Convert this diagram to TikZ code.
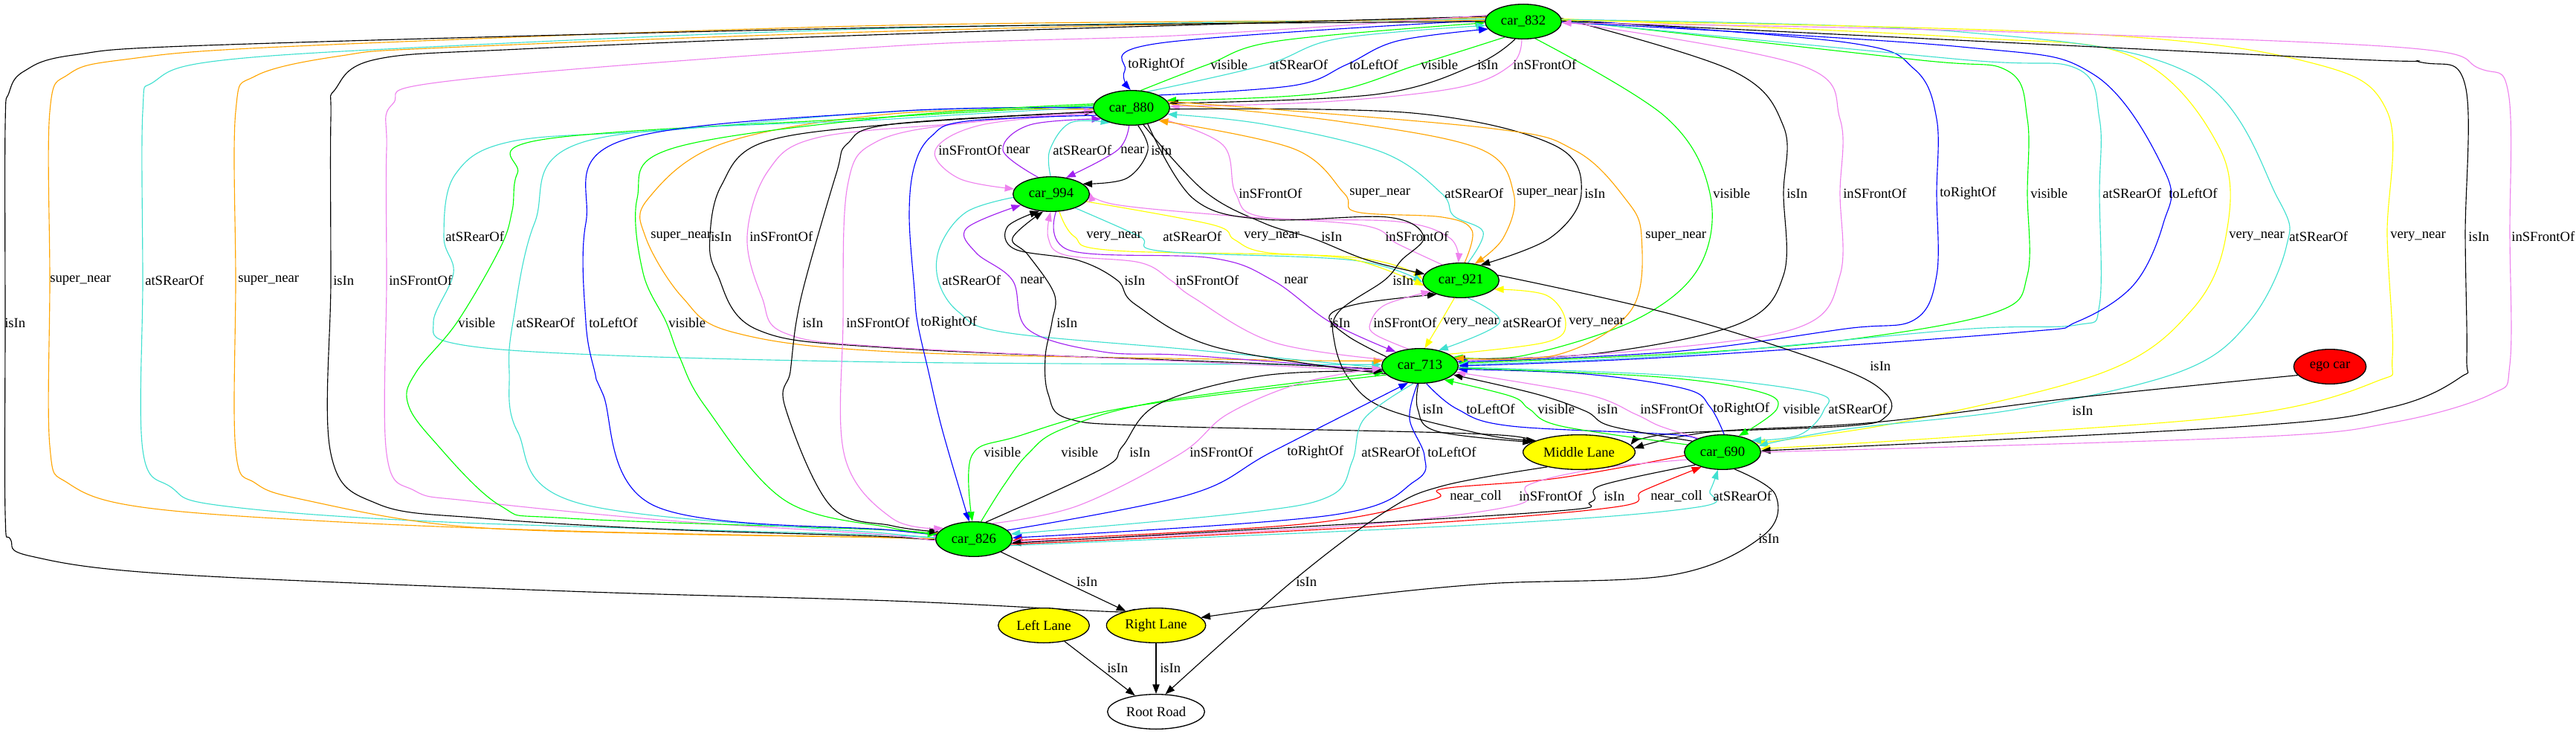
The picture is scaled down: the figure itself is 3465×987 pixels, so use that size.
\documentclass[tikz,border=0pt]{standalone}
\usepackage{fontspec}
\setmainfont{Liberation Serif}
\usetikzlibrary{shapes.geometric,arrows.meta,backgrounds}
\definecolor{gvgreen}{HTML}{00FF00}
\definecolor{gvyellow}{HTML}{FFFF00}
\definecolor{gvred}{HTML}{FF0000}
\definecolor{gvviolet}{HTML}{EE82EE}
\definecolor{gvturq}{HTML}{40E0D0}
\definecolor{gvorange}{HTML}{FFA500}
\definecolor{gvpurple}{HTML}{A020F0}
\definecolor{gvblue}{HTML}{0000FF}
\begin{document}
\begin{tikzpicture}[x=0.75pt,y=-0.75pt,>={Triangle[length=9.5pt,width=7pt]},
every node/.style={font=\fontsize{14}{16}\selectfont},
car/.style={ellipse,draw,line width=1pt,fill=gvgreen,minimum width=77pt,minimum height=35pt,inner sep=0pt},
lane/.style={ellipse,draw,line width=1pt,fill=gvyellow,minimum height=35pt,inner sep=0pt},
lbl/.style={anchor=west,inner sep=3pt},
rel/.style={->,line width=0.85pt,smooth,tension=0.6},
isin/.style={rel,draw=black},
front/.style={rel,draw=gvviolet},
rear/.style={rel,draw=gvturq},
lr/.style={rel,draw=gvblue},
vis/.style={rel,draw=gvgreen},
nr/.style={rel,draw=gvpurple},
snear/.style={rel,draw=gvorange},
vnear/.style={rel,draw=gvyellow},
coll/.style={rel,draw=gvred}]
\useasboundingbox (0,0) rectangle (3465,987);
% nodes
\node[car] (c832) at (2049,29) {car\_832};
\node[car] (c880) at (1522,145) {car\_880};
\node[car] (c994) at (1414,261) {car\_994};
\node[car] (c921) at (1965,377) {car\_921};
\node[car] (c713) at (1910,492) {car\_713};
\node[lane,minimum width=113pt] (mid) at (2124,608) {Middle Lane};
\node[car] (c690) at (2317,608) {car\_690};
\node[car,fill=gvred,minimum width=73pt] (ego) at (3134,493) {ego car};
\node[car] (c826) at (1310,725) {car\_826};
\node[lane,minimum width=92pt] (leftl) at (1404,841) {Left Lane};
\node[lane,minimum width=100pt] (rightl) at (1555,841) {Right Lane};
\node[lane,fill=white,minimum width=98pt] (road) at (1555,957) {Root Road};
% labels
\node[lbl] (lA1) at (1513,87) {toRightOf};
\node[lbl] (lA2) at (1624,87) {visible};
\node[lbl] (lA3) at (1703,87) {atSRearOf};
\node[lbl] (lA4) at (1811,87) {toLeftOf};
\node[lbl] (lA5) at (1907,87) {visible};
\node[lbl] (lA6) at (1983,87) {isIn};
\node[lbl] (lA7) at (2031,87) {inSFrontOf};
\node[lbl] (lB1) at (1258,202) {inSFrontOf};
\node[lbl] (lB2) at (1349,202) {near};
\node[lbl] (lB3) at (1412,202) {atSRearOf};
\node[lbl] (lB4) at (1503,202) {near};
\node[lbl] (lB5) at (1544,202) {isIn};
\node[lbl] (lC1) at (1662,260) {inSFrontOf};
\node[lbl] (lC2) at (1811,260) {super\_near};
\node[lbl] (lC3) at (1939,260) {atSRearOf};
\node[lbl] (lC4) at (2036,260) {super\_near};
\node[lbl] (lC5) at (2127,260) {isIn};
\node[lbl] (lC6) at (2300,260) {visible};
\node[lbl] (lC7) at (2399,260) {isIn};
\node[lbl] (lC8) at (2475,260) {inSFrontOf};
\node[lbl] (lC9) at (2605,260) {toRightOf};
\node[lbl] (lC10) at (2727,260) {visible};
\node[lbl] (lC11) at (2824,260) {atSRearOf};
\node[lbl] (lC12) at (2913,260) {toLeftOf};
\node[lbl] (lD1) at (595,318) {atSRearOf};
\node[lbl] (lD2) at (871,318) {super\_near};
\node[lbl] (lD3) at (952,318) {isIn};
\node[lbl] (lD4) at (1004,318) {inSFrontOf};
\node[lbl] (lD5) at (1457,318) {very\_near};
\node[lbl] (lD6) at (1560,318) {atSRearOf};
\node[lbl] (lD7) at (1669,318) {very\_near};
\node[lbl] (lD8) at (1773,318) {isIn};
\node[lbl] (lD9) at (1859,318) {inSFrontOf};
\node[lbl] (lD10) at (2209,318) {super\_near};
\node[lbl] (lD11) at (2994,318) {very\_near};
\node[lbl] (lD12) at (3075,318) {atSRearOf};
\node[lbl] (lD13) at (3211,318) {very\_near};
\node[lbl] (lD14) at (3316,318) {isIn};
\node[lbl] (lD15) at (3374,318) {inSFrontOf};
\node[lbl] (lE1) at (63,377) {super\_near};
\node[lbl] (lE2) at (191,377) {atSRearOf};
\node[lbl] (lE3) at (316,377) {super\_near};
\node[lbl] (lE4) at (444,377) {isIn};
\node[lbl] (lE5) at (519,377) {inSFrontOf};
\node[lbl] (lE6) at (1263,377) {atSRearOf};
\node[lbl] (lE7) at (1368,377) {near};
\node[lbl] (lE8) at (1508,377) {isIn};
\node[lbl] (lE9) at (1577,377) {inSFrontOf};
\node[lbl] (lE10) at (1723,377) {near};
\node[lbl] (lE11) at (1869,377) {isIn};
\node[lbl] (lF1) at (2,434) {isIn};
\node[lbl] (lF2) at (612,434) {visible};
\node[lbl] (lF3) at (690,434) {atSRearOf};
\node[lbl] (lF4) at (788,434) {toLeftOf};
\node[lbl] (lF5) at (895,434) {visible};
\node[lbl] (lF6) at (1075,434) {isIn};
\node[lbl] (lF7) at (1134,434) {inSFrontOf};
\node[lbl] (lF8) at (1234,434) {toRightOf};
\node[lbl] (lF9) at (1417,434) {isIn};
\node[lbl] (lF10) at (1784,434) {isIn};
\node[lbl] (lF11) at (1843,434) {inSFrontOf};
\node[lbl] (lF12) at (1937,434) {very\_near};
\node[lbl] (lF13) at (2017,434) {atSRearOf};
\node[lbl] (lF14) at (2106,434) {very\_near};
\node[lbl] (lG1) at (2511,492) {isIn};
\node[lbl] (lH1) at (1909,550) {isIn};
\node[lbl] (lH2) at (1968,550) {toLeftOf};
\node[lbl] (lH3) at (2064,550) {visible};
\node[lbl] (lH4) at (2144,550) {isIn};
\node[lbl] (lH5) at (2202,550) {inSFrontOf};
\node[lbl] (lH6) at (2300,550) {toRightOf};
\node[lbl] (lH7) at (2394,550) {visible};
\node[lbl] (lH8) at (2455,550) {atSRearOf};
\node[lbl] (lH9) at (2783,552) {isIn};
\node[lbl] (lR1) at (1319,608) {visible};
\node[lbl] (lR2) at (1423,608) {visible};
\node[lbl] (lR3) at (1515,608) {isIn};
\node[lbl] (lR4) at (1596,608) {inSFrontOf};
\node[lbl] (lR5) at (1727,608) {toRightOf};
\node[lbl] (lR6) at (1827,608) {atSRearOf};
\node[lbl] (lR7) at (1916,608) {toLeftOf};
\node[lbl] (lI1) at (1946,667) {near\_coll};
\node[lbl] (lI2) at (2039,667) {inSFrontOf};
\node[lbl] (lI3) at (2153,667) {isIn};
\node[lbl] (lI4) at (2216,667) {near\_coll};
\node[lbl] (lI5) at (2300,667) {atSRearOf};
\node[lbl] (lJ1) at (2361,724) {isIn};
\node[lbl] (lJ2) at (1444,782) {isIn};
\node[lbl] (lJ3) at (1739,782) {isIn};
\node[lbl] (lK1) at (1485,898) {isIn};
\node[lbl] (lK2) at (1556,898) {isIn};
% relations
\begin{scope}[on background layer]
\draw[lr] plot coordinates {(c832.178) (1560,58) (1513,95) (c880.93)};
\draw[vis] plot coordinates {(c880.62) (1624,87) (1720,55) (c832.182)};
\draw[rear] plot coordinates {(c880.45) (1703,87) (1800,52) (c832.186)};
\draw[lr] plot coordinates {(c880.25) (1740,115) (1811,87) (1880,55) (c832.192)};
\draw[vis] plot coordinates {(c832.220) (1907,87) (1780,125) (c880.12)};
\draw[isin] plot coordinates {(c832.245) (1985,87) (1850,127) (c880.7)};
\draw[front] plot coordinates {(c832.265) (2033,87) (1960,118) (1780,137) (c880.2)};
\draw[front] plot coordinates {(c880.188) (1320,168) (1258,202) (1290,240) (c994.172)};
\draw[nr] plot coordinates {(c994.128) (1349,202) (1385,168) (c880.200)};
\draw[rear] plot coordinates {(c994.92) (1412,202) (1440,165) (c880.215)};
\draw[nr] plot coordinates {(c880.262) (1503,202) (c994.48)};
\draw[isin] plot coordinates {(c880.290) (1544,202) (1515,240) (c994.18)};
\draw[front] plot coordinates {(c880.340) (1645,195) (1662,260) (1700,292) (1880,298) (1950,320) (c921.98)};
\draw[snear] plot coordinates {(c921.78) (1980,310) (1940,292) (1825,285) (1808,260) (1740,200) (c880.335)};
\draw[rear] plot coordinates {(c921.68) (1995,312) (1955,290) (1939,260) (1860,205) (1700,167) (c880.350)};
\draw[snear] plot coordinates {(c880.6) (1800,163) (1990,200) (2036,260) (2022,320) (c921.50)};
\draw[isin] plot coordinates {(c880.358) (1900,152) (2090,195) (2127,260) (2085,320) (c921.38)};
\draw[vis] plot coordinates {(c832.305) (2240,157) (2300,260) (2285,360) (2200,430) (2050,478) (c713.15)};
\draw[isin] plot coordinates {(c832.5) (2330,95) (2399,170) (2399,260) (2399,370) (2340,435) (2150,475) (c713.11)};
\draw[front] plot coordinates {(c713.8) (2200,472) (2420,440) (2475,370) (2475,260) (2475,160) (2420,87) (c832.0)};
\draw[lr] plot coordinates {(c832.3) (2483,57) (2575,93) (2605,160) (2605,260) (2605,370) (2575,430) (2483,442) (2250,473) (c713.6)};
\draw[vis] plot coordinates {(c832.2) (2575,80) (2700,95) (2727,160) (2727,260) (2727,370) (2684,420) (2483,457) (2250,476) (c713.4)};
\draw[rear] plot coordinates {(c832.1) (2638,80) (2793,92) (2824,160) (2824,260) (2824,410) (2793,437) (2638,443) (2250,478) (c713.2)};
\draw[lr] plot coordinates {(c832.359) (2638,63) (2816,100) (2913,233) (2910,300) (2870,383) (2793,433) (2715,447) (2250,480) (c713.0)};
\draw[rear] plot coordinates {(c880.178) (1200,150) (900,175) (689,190) (612,235) (597,318) (610,367) (583,433) (612,462) (800,477) (1200,487) (1700,490) (c713.178)};
\draw[snear] plot coordinates {(c880.182) (1200,153) (972,193) (872,267) (868,318) (918,400) (987,447) (1200,473) (1700,484) (c713.172)};
\draw[isin] plot coordinates {(c713.185) (1700,489) (1200,468) (1018,443) (964,367) (955,318) (970,250) (1025,192) (1200,167) (c880.186)};
\draw[front] plot coordinates {(c713.190) (1700,491) (1200,467) (1056,448) (1025,400) (1005,318) (1033,230) (1100,185) (1300,165) (c880.184)};
\draw[snear] plot coordinates {(c880.10) (2000,172) (2118,202) (2186,267) (2208,318) (2194,417) (2095,477) (c713.13)};
\draw[vnear] plot coordinates {(c994.295) (1445,318) (1500,337) (1820,346) (c921.178)};
\draw[rear] plot coordinates {(c994.330) (1533,318) (1565,338) (1820,350) (c921.183)};
\draw[vnear] plot coordinates {(c994.348) (1630,302) (1660,322) (1700,339) (1820,349) (c921.188)};
\draw[isin] plot coordinates {(c880.305) (1620,257) (1700,300) (1767,321) (1840,350) (c921.170)};
\draw[front] plot coordinates {(c921.140) (1880,328) (1833,303) (1653,290) (1500,275) (c994.3)};
\draw[vnear] plot coordinates {(c832.4) (2638,50) (2870,77) (2986,200) (2994,318) (2948,417) (2831,500) (2560,567) (c690.15)};
\draw[rear] plot coordinates {(c832.3) (2638,43) (2948,100) (3064,267) (3075,333) (3025,433) (2932,500) (2715,550) (2483,577) (c690.10)};
\draw[vnear] plot coordinates {(c832.2) (2793,45) (3103,83) (3211,150) (3211,318) (3218,480) (3196,513) (3025,557) (2638,587) (c690.5)};
\draw[isin] plot coordinates {(c832.1) (3126,78) (3258,84) (3316,115) (3316,318) (3318,480) (3310,507) (3219,547) (3025,573) (c690.2)};
\draw[front] plot coordinates {(c690.0) (3025,588) (3219,568) (3351,530) (3376,490) (3376,318) (3374,125) (3335,92) (3219,63) (2600,40) (c832.358)};
\draw[snear] plot coordinates {(c832.178) (1200,34) (400,62) (168,80) (92,100) (67,150) (67,377) (67,600) (92,650) (191,682) (459,702) (800,715) (1200,723) (c826.180)};
\draw[rear] plot coordinates {(c832.176) (1200,38) (600,62) (291,82) (207,110) (192,150) (192,377) (192,605) (230,655) (298,680) (600,702) (1200,720) (c826.182)};
\draw[snear] plot coordinates {(c832.174) (1200,42) (600,64) (459,75) (344,102) (317,150) (317,377) (317,605) (344,650) (413,673) (612,707) (900,718) (1200,723) (c826.184)};
\draw[isin] plot coordinates {(c832.172) (1200,46) (700,66) (505,80) (451,120) (445,160) (445,377) (445,610) (509,678) (650,697) (900,712) (1200,722) (c826.186)};
\draw[front] plot coordinates {(c832.170) (1600,47) (1200,62) (612,108) (528,140) (520,200) (520,377) (520,610) (558,660) (635,674) (900,700) (1200,720) (c826.188)};
\draw[isin] plot coordinates {(c832.180) (1200,37) (306,60) (99,74) (32,96) (12,125) (7,170) (7,433) (7,690) (14,725) (42,748) (230,772) (765,795) (1200,808) (1483,822) (rightl.155)};
\draw[rear] plot coordinates {(c994.185) (1300,285) (1265,330) (1262,377) (1290,420) (1352,447) (1600,470) (c713.183)};
\draw[nr] plot coordinates {(c713.187) (1600,478) (1483,473) (1383,443) (1362,377) (1313,340) (1300,307) (c994.200)};
\draw[isin] plot coordinates {(c713.193) (1636,467) (1528,410) (1503,377) (1450,350) (1365,335) (1355,305) (c994.235)};
\draw[front] plot coordinates {(c713.170) (1712,460) (1605,400) (1575,377) (1533,353) (1433,343) (1410,320) (c994.268)};
\draw[nr] plot coordinates {(c994.285) (1440,337) (1630,347) (1712,377) (1789,433) (c713.150)};
\draw[isin] plot coordinates {(c880.315) (1605,267) (1700,295) (1866,292) (1915,318) (1885,350) (1862,377) (1800,420) (1795,460) (1815,510) (1865,550) (2000,585) (mid.165)};
\draw[vis] plot coordinates {(c880.176) (1200,157) (734,187) (696,233) (689,283) (673,333) (615,433) (560,500) (548,540) (581,590) (673,680) (765,697) (1200,713) (c826.176)};
\draw[rear] plot coordinates {(c880.179) (1200,160) (788,190) (719,300) (690,433) (685,500) (696,580) (780,677) (1200,718) (c826.178)};
\draw[lr] plot coordinates {(c880.180) (1200,150) (834,190) (788,300) (788,433) (800,500) (811,530) (880,680) (1200,713) (c826.174)};
\draw[vis] plot coordinates {(c880.174) (1200,157) (903,200) (857,267) (865,367) (896,433) (914,480) (949,547) (1056,673) (1200,710) (c826.172)};
\draw[isin] plot coordinates {(c880.186) (1200,167) (1140,193) (1125,233) (1086,367) (1071,433) (1063,500) (1056,547) (1117,680) (1200,707) (c826.168)};
\draw[front] plot coordinates {(c880.188) (1300,165) (1180,190) (1140,250) (1134,433) (1136,613) (1200,697) (c826.160)};
\draw[lr] plot coordinates {(c880.192) (1300,163) (1253,183) (1230,223) (1223,290) (1230,390) (1234,433) (1249,500) (1268,580) (c826.105)};
\draw[isin] plot coordinates {(mid.178) (2018,585) (1559,573) (1437,563) (1410,530) (1406,480) (1415,433) (1418,395) (1383,343) (1362,320) (c994.245)};
\draw[isin] plot coordinates {(c713.165) (1813,452) (1788,425) (1830,408) (c921.210)};
\draw[front] plot coordinates {(c713.125) (1850,450) (1843,435) (1863,410) (c921.200)};
\draw[vnear] plot coordinates {(c921.250) (1937,434) (c713.75)};
\draw[rear] plot coordinates {(c921.292) (2017,434) (c713.40)};
\draw[vnear] plot coordinates {(c713.22) (2080,460) (2106,434) (2080,397) (c921.345)};
\draw[isin] plot coordinates {(c921.8) (2250,423) (2467,492) (2537,530) (2537,560) (2483,573) (2250,583) (mid.8)};
\draw[isin] plot coordinates {(ego.195) (2790,535) (2521,568) (2300,581) (mid.4)};
\draw[isin] plot coordinates {(c713.265) (1907,550) (1933,580) (mid.168)};
\draw[lr] plot coordinates {(c713.290) (1960,550) (2033,573) (2267,586) (c690.175)};
\draw[vis] plot coordinates {(c690.168) (2100,573) (2057,550) (2033,533) (c713.330)};
\draw[isin] plot coordinates {(c690.160) (2167,573) (2133,553) (2067,530) (c713.345)};
\draw[front] plot coordinates {(c690.150) (2233,573) (2200,557) (2133,530) (c713.350)};
\draw[lr] plot coordinates {(c690.85) (2300,547) (2267,523) (2133,503) (c713.355)};
\draw[vis] plot coordinates {(c713.357) (2233,507) (2367,527) (2390,550) (c690.45)};
\draw[rear] plot coordinates {(c713.358) (2250,505) (2440,528) (2453,552) (2420,585) (c690.22)};
\draw[vis] plot coordinates {(c713.195) (1521,547) (1368,587) (1307,613) (c826.95)};
\draw[vis] plot coordinates {(c826.68) (1350,653) (1383,610) (1429,577) (1559,540) (c713.190)};
\draw[isin] plot coordinates {(c826.55) (1483,630) (1510,600) (1559,543) (1700,505) (c713.188)};
\draw[front] plot coordinates {(c826.40) (1450,680) (1588,610) (1651,557) (1750,515) (c713.183)};
\draw[lr] plot coordinates {(c826.15) (1600,665) (1712,607) (c713.235)};
\draw[rear] plot coordinates {(c713.250) (1835,563) (1819,620) (1789,667) (1670,690) (c826.8)};
\draw[lr] plot coordinates {(c713.262) (1896,563) (1916,613) (1903,647) (1789,693) (c826.2)};
\draw[coll] plot coordinates {(c690.185) (2095,643) (1942,657) (1926,672) (1750,705) (c826.358)};
\draw[front] plot coordinates {(c690.192) (2150,630) (2056,652) (2036,680) (1800,708) (c826.356)};
\draw[isin] plot coordinates {(c690.205) (2153,653) (2140,675) (2056,690) (c826.354)};
\draw[coll] plot coordinates {(c826.352) (1865,707) (2171,682) (2210,660) (c690.215)};
\draw[rear] plot coordinates {(c826.350) (2000,705) (2283,682) (2300,660) (c690.255)};
\draw[isin] plot coordinates {(c690.305) (2388,665) (2372,720) (2250,773) (2000,785) (1800,805) (rightl.10)};
\draw[isin] (c826) -- (rightl);
\draw[isin] plot coordinates {(mid.205) (1942,653) (1865,687) (1738,782) (road.62)};
\draw[isin] (leftl) -- (road);
\draw[isin] (rightl) -- (road);
\end{scope}
\end{tikzpicture}
\end{document}
